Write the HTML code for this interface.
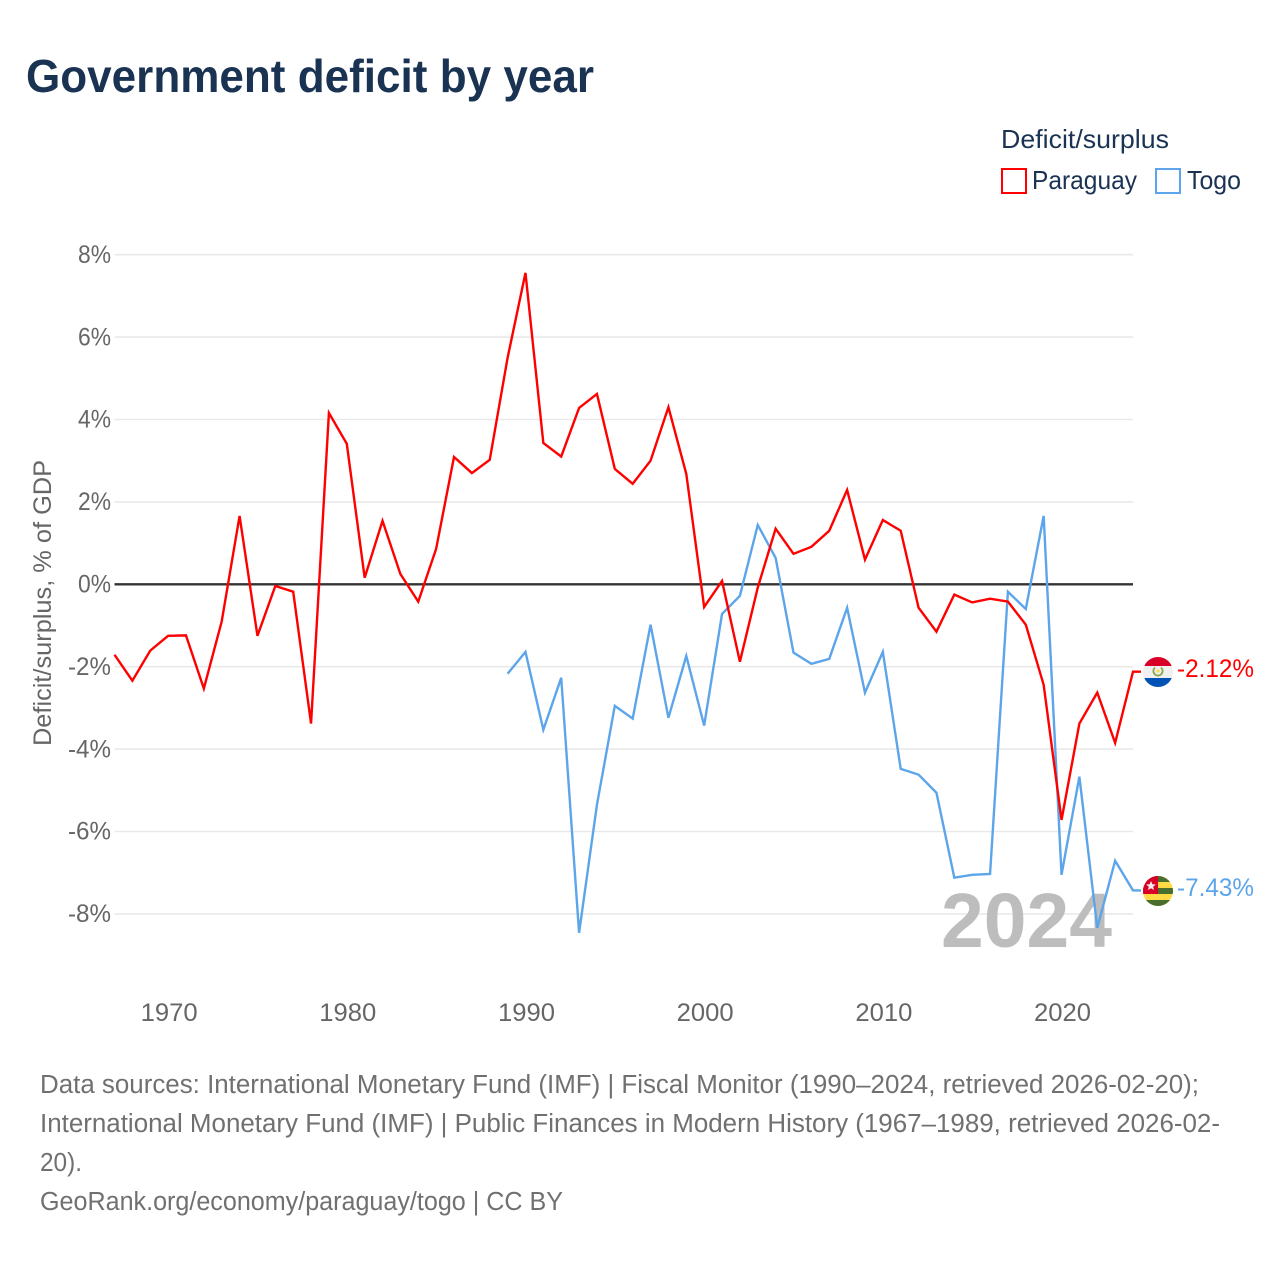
<!DOCTYPE html>
<html lang="en">
<head>
<meta charset="utf-8">
<title>Government deficit by year</title>
<style>
html,body{margin:0;padding:0;background:#fff;}
svg{display:block;}
text{font-family:"Liberation Sans",sans-serif;}
</style>
</head>
<body>
<svg id="chart" xmlns="http://www.w3.org/2000/svg" width="1280" height="1280" viewBox="0 0 1280 1280">
  <rect x="0" y="0" width="1280" height="1280" fill="#ffffff"/>
  <text x="26" y="92" font-size="46" font-weight="700" fill="#1a3353" textLength="568" lengthAdjust="spacingAndGlyphs">Government deficit by year</text>

  <g>
    <text x="1001" y="148" font-size="26" fill="#1a3353" textLength="168" lengthAdjust="spacingAndGlyphs">Deficit/surplus</text>
    <g>
      <rect x="1002" y="169" width="24" height="24" fill="none" stroke="#ff0000" stroke-width="2"/>
      <text x="1032" y="189" font-size="26" fill="#1a3353" textLength="105" lengthAdjust="spacingAndGlyphs">Paraguay</text>
    </g>
    <g>
      <rect x="1156" y="169" width="24" height="24" fill="none" stroke="#5da5ea" stroke-width="2"/>
      <text x="1187" y="189" font-size="26" fill="#1a3353" textLength="54" lengthAdjust="spacingAndGlyphs">Togo</text>
    </g>
  </g>

  <text transform="translate(51,603) rotate(-90)" text-anchor="middle" font-size="25" fill="#666666" textLength="286" lengthAdjust="spacingAndGlyphs">Deficit/surplus, % of GDP</text>

  <g id="grid"></g>
  <g id="ytick-labels"></g>
  <g id="xtick-labels"></g>

  <text x="941" y="947" font-size="77" font-weight="700" fill="#bdbdbd" textLength="171" lengthAdjust="spacingAndGlyphs">2024</text>

  <g id="series"></g>

  <g id="flag-paraguay">
    <clipPath id="clip-py"><circle cx="1158" cy="672" r="15"/></clipPath>
    <g clip-path="url(#clip-py)">
      <rect x="1143" y="657" width="30" height="9" fill="#d80027"/>
      <rect x="1143" y="666" width="30" height="12" fill="#f0f0f0"/>
      <rect x="1143" y="678" width="30" height="9" fill="#0052b4"/>
      <path d="M1155 667.5a4.6 4.6 0 1 0 6 0" fill="none" stroke="#8aa64f" stroke-width="1.8"/>
      <circle cx="1158" cy="671" r="1.6" fill="#ffda44"/>
    </g>
  </g>
  <g id="flag-togo">
    <clipPath id="clip-tg"><circle cx="1158" cy="891" r="15"/></clipPath>
    <g clip-path="url(#clip-tg)">
      <rect x="1143" y="876" width="30" height="30" fill="#ffda44"/>
      <rect x="1143" y="876" width="30" height="6" fill="#496e2d"/>
      <rect x="1143" y="888" width="30" height="6" fill="#496e2d"/>
      <rect x="1143" y="900" width="30" height="6" fill="#496e2d"/>
      <rect x="1143" y="876" width="15" height="18" fill="#d80027"/>
      <polygon points="1151,881 1152.4,884.2 1155.8,884.5 1153.2,886.7 1154,890 1151,888.3 1148,890 1148.8,886.7 1146.2,884.5 1149.6,884.2" fill="#f0f0f0"/>
    </g>
  </g>

  <text x="1177" y="677" font-size="25" fill="#ff0000" textLength="77" lengthAdjust="spacingAndGlyphs">-2.12%</text>
  <text x="1177" y="896" font-size="25" fill="#5da5ea" textLength="77" lengthAdjust="spacingAndGlyphs">-7.43%</text>

  <g font-size="25.5" fill="#707070">
    <text x="40" y="1093" textLength="1159" lengthAdjust="spacingAndGlyphs">Data sources: International Monetary Fund (IMF) | Fiscal Monitor (1990–2024, retrieved 2026-02-20);</text>
    <text x="40" y="1132" textLength="1180" lengthAdjust="spacingAndGlyphs">International Monetary Fund (IMF) | Public Finances in Modern History (1967–1989, retrieved 2026-02-</text>
    <text x="40" y="1171" textLength="42" lengthAdjust="spacingAndGlyphs">20).</text>
    <text x="40" y="1210" textLength="523" lengthAdjust="spacingAndGlyphs">GeoRank.org/economy/paraguay/togo | CC BY</text>
  </g>
</svg>

<script>
var paraguayStartYear = 1967;
var paraguayValues = [-1.71,-2.34,-1.61,-1.25,-1.24,-2.53,-0.9,1.66,-1.25,-0.04,-0.18,-3.38,4.16,3.41,0.16,1.54,0.25,-0.42,0.86,3.09,2.7,3.02,5.5,7.56,3.43,3.1,4.28,4.62,2.8,2.44,3.0,4.3,2.68,-0.55,0.08,-1.88,-0.08,1.35,0.74,0.91,1.3,2.29,0.6,1.56,1.3,-0.57,-1.15,-0.25,-0.44,-0.35,-0.42,-0.98,-2.44,-5.72,-3.38,-2.63,-3.85,-2.12];
var togoStartYear = 1989;
var togoValues = [-2.17,-1.64,-3.53,-2.27,-8.46,-5.35,-2.95,-3.26,-0.98,-3.24,-1.74,-3.43,-0.72,-0.28,1.44,0.64,-1.66,-1.93,-1.81,-0.57,-2.63,-1.64,-4.48,-4.62,-5.06,-7.12,-7.05,-7.03,-0.18,-0.6,1.66,-7.05,-4.67,-8.34,-6.71,-7.43];
var yTicks = [8,6,4,2,0,-2,-4,-6,-8];
var xTicks = [1970,1980,1990,2000,2010,2020];

var NS = 'http://www.w3.org/2000/svg';
function xScale(year){ return 114.5 + (year - 1967) * (1133 - 114.5) / (2024 - 1967); }
function yScale(v){ return 584.3 - v * 41.2; }

var gridG = document.getElementById('grid');
var yLabelG = document.getElementById('ytick-labels');
var xLabelG = document.getElementById('xtick-labels');
var seriesG = document.getElementById('series');

yTicks.forEach(function(t){
  if (t === 0) return;
  var line = document.createElementNS(NS,'line');
  
  
  line.setAttribute('x1', 114.5);
  line.setAttribute('x2', 1133);
  line.setAttribute('y1', yScale(t));
  line.setAttribute('y2', yScale(t));
  line.setAttribute('stroke', '#e9e9e9');
  line.setAttribute('stroke-width', '1.6');
  gridG.appendChild(line);
});

yTicks.forEach(function(t){
  var label = document.createElementNS(NS,'text');
  
  
  var w = t < 0 ? 43 : 33;
  label.setAttribute('x', 111 - w);
  label.setAttribute('y', yScale(t) + 8.2);
  label.setAttribute('font-size', '25');
  label.setAttribute('fill', '#666666');
  label.setAttribute('textLength', w);
  label.setAttribute('lengthAdjust', 'spacingAndGlyphs');
  label.textContent = t + '%';
  yLabelG.appendChild(label);
});

xTicks.forEach(function(t){
  var label = document.createElementNS(NS,'text');
  
  
  label.setAttribute('x', xScale(t) + 1 - 28.5);
  label.setAttribute('y', 1021);
  label.setAttribute('font-size', '25');
  label.setAttribute('fill', '#666666');
  label.setAttribute('textLength', 57);
  label.setAttribute('lengthAdjust', 'spacingAndGlyphs');
  label.textContent = t;
  xLabelG.appendChild(label);
});

var zeroLine = document.createElementNS(NS,'line');


zeroLine.setAttribute('x1', 114.5);
zeroLine.setAttribute('x2', 1133);
zeroLine.setAttribute('y1', yScale(0));
zeroLine.setAttribute('y2', yScale(0));
zeroLine.setAttribute('stroke', '#333333');
zeroLine.setAttribute('stroke-width', '2.4');
gridG.appendChild(zeroLine);

function linePoints(values, startYear){
  var pts = values.map(function(v, i){ return xScale(startYear + i).toFixed(2) + ',' + yScale(v).toFixed(2); });
  var lastX = xScale(startYear + values.length - 1) + 8;
  pts.push(lastX.toFixed(2) + ',' + yScale(values[values.length - 1]).toFixed(2));
  return pts.join(' ');
}

var togoLine = document.createElementNS(NS,'polyline');


togoLine.setAttribute('points', linePoints(togoValues, togoStartYear));
togoLine.setAttribute('fill', 'none');
togoLine.setAttribute('stroke', '#5da5ea');
togoLine.setAttribute('stroke-width', '2.4');
togoLine.setAttribute('stroke-linejoin', 'miter');
seriesG.appendChild(togoLine);

var paraguayLine = document.createElementNS(NS,'polyline');


paraguayLine.setAttribute('points', linePoints(paraguayValues, paraguayStartYear));
paraguayLine.setAttribute('fill', 'none');
paraguayLine.setAttribute('stroke', '#ff0000');
paraguayLine.setAttribute('stroke-width', '2.4');
paraguayLine.setAttribute('stroke-linejoin', 'miter');
seriesG.appendChild(paraguayLine);
</script>
</body>
</html>
